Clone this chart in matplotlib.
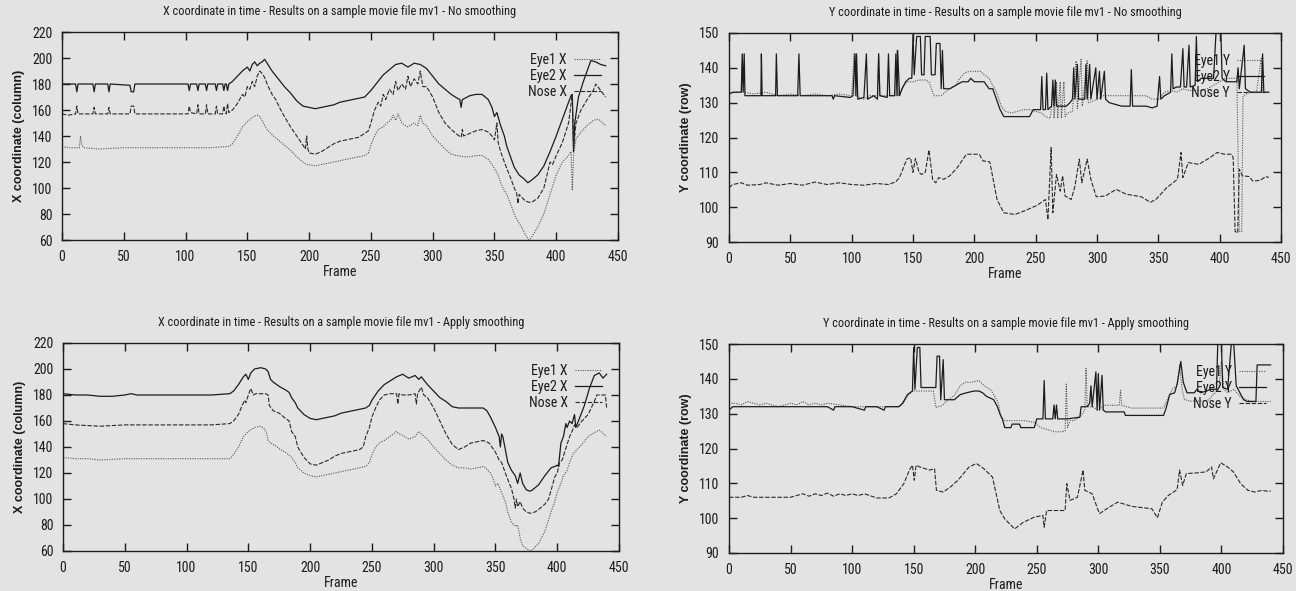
import matplotlib
matplotlib.use('Agg')
import matplotlib.pyplot as plt
from matplotlib.lines import Line2D

# ---------------- data (frame, value) ----------------
x_ticks = [0, 50, 100, 150, 200, 250, 300, 350, 400, 450]
x_yticks = [60, 80, 100, 120, 140, 160, 180, 200, 220]
y_yticks = [90, 100, 110, 120, 130, 140, 150]

titles = ["X coordinate in time - Results on a sample movie file mv1 - No smoothing",
          "Y coordinate in time - Results on a sample movie file mv1 - No smoothing",
          "X coordinate in time - Results on a sample movie file mv1 - Apply smoothing",
          "Y coordinate in time - Results on a sample movie file mv1 - Apply smoothing"]
x_labels = ["Eye1 X", "Eye2 X", "Nose X"]
y_labels = ["Eye1 Y", "Eye2 Y", "Nose Y"]

# X coordinate, no smoothing
x_raw_eye1 = [(0,132),(5,131),(14,131),(15,140),(16,133),(18,131),(30,130),(50,131),(80,131),(100,131),
    (120,131),(135,132),(138,134),(142,140),(146,147),(150,151),(155,155),(158,156),(160,155),(163,150),
    (166,145),(170,141),(175,137),(180,133),(185,129),(190,124),(195,120),(198,118),(200,118),(205,117),
    (210,118),(215,119),(220,120),(225,121),(230,122),(240,124),(245,125),(248,127),(250,133),(253,140),
    (256,145),(260,147),(263,150),(266,152),(268,156),(270,152),(272,157),(275,150),(278,148),(280,147),
    (285,150),(288,148),(290,156),(292,150),(295,148),(300,140),(305,135),(310,130),(315,126),(320,125),
    (325,124),(330,124),(335,125),(340,125),(345,122),(348,118),(350,115),(353,110),(355,104),(358,98),
    (360,95),(363,88),(366,80),(368,76),(370,73),(373,68),(375,64),(378,60),(380,62),(385,70),(390,80),
    (395,95),(400,110),(405,120),(410,125),(412,128),(413,98),(414,125),(416,138),(420,143),(425,148),
    (430,152),(434,153),(440,148)]
x_raw_eye2 = [(0,180),(11,180),(12,174),(13,180),(25,180),(26,174),(27,180),(37,180),(38,174),(39,180),
    (55,179),(56,174),(58,174),(59,180),(100,180),(102,180),(103,175),(104,180),(109,180),(110,175),
    (111,180),(116,180),(117,175),(118,180),(124,180),(125,175),(126,180),(130,180),(131,175),(132,180),
    (133,180),(134,175),(135,180),(138,182),(142,186),(146,190),(150,193),(152,190),(154,195),(156,197),
    (158,194),(160,196),(162,197),(164,199),(166,196),(170,190),(175,184),(180,178),(185,173),(190,167),
    (195,163),(200,162),(205,161),(210,162),(215,163),(220,164),(225,166),(230,167),(235,168),(240,169),
    (245,170),(250,175),(255,181),(260,187),(265,191),(270,195),(275,196),(280,193),(285,196),(290,195),
    (295,192),(300,186),(305,180),(310,176),(315,172),(320,169),(322,168),(323,162),(324,168),(326,169),
    (330,171),(335,172),(340,172),(345,168),(348,162),(350,155),(352,158),(355,148),(358,140),(360,132),
    (363,124),(366,116),(370,110),(374,107),(377,104),(380,106),(385,110),(390,117),(395,128),(400,140),
    (405,153),(410,166),(412,171),(413,172),(414,128),(415,150),(418,170),(422,182),(425,190),(428,198),
    (432,197),(436,195),(440,194)]
x_raw_nose = [(0,157),(5,156),(11,157),(12,163),(13,157),(25,157),(26,162),(27,157),(37,157),(38,162),
    (39,157),(55,157),(56,163),(58,163),(59,157),(100,157),(102,157),(103,163),(104,158),(109,157),
    (110,164),(111,157),(116,157),(117,164),(118,157),(124,157),(125,163),(126,157),(130,157),(131,163),
    (132,158),(133,157),(134,165),(135,158),(138,160),(142,165),(146,172),(148,170),(150,178),(152,176),
    (154,182),(156,178),(158,186),(160,190),(162,188),(164,185),(166,180),(168,176),(170,172),(173,168),
    (176,162),(180,155),(185,147),(190,140),(195,133),(197,130),(198,140),(199,130),(200,127),(205,126),
    (210,128),(215,131),(220,134),(225,136),(230,137),(235,138),(240,139),(245,142),(248,144),(250,150),
    (253,160),(256,166),(258,163),(260,172),(262,168),(265,176),(268,172),(270,182),(272,175),(275,180),
    (278,176),(280,186),(282,178),(285,184),(288,180),(290,190),(292,178),(295,178),(300,170),(305,158),
    (310,150),(315,145),(320,141),(323,139),(324,145),(325,140),(330,142),(335,144),(340,145),(345,143),
    (348,140),(350,137),(352,150),(353,135),(355,128),(358,120),(360,115),(363,108),(366,100),(368,96),
    (369,88),(370,95),(375,90),(378,89),(380,89),(385,92),(390,100),(393,112),(395,120),(397,118),
    (400,125),(405,135),(410,150),(413,172),(414,130),(416,150),(420,160),(425,168),(430,175),(432,180),
    (436,175),(440,170)]

# X coordinate, smoothing
x_sm_eye1 = [(0,132),(10,131),(20,131),(30,130),(50,131),(80,131),(100,131),(120,131),(135,131),(138,134),
    (142,140),(146,148),(150,152),(155,155),(160,156),(163,154),(165,150),(166,145),(168,143),(172,141),
    (176,138),(180,136),(185,132),(188,128),(190,124),(195,120),(200,118),(205,117),(210,118),(215,119),
    (220,120),(225,121),(230,122),(235,123),(240,124),(245,125),(248,128),(250,134),(253,140),(256,143),
    (260,145),(263,147),(266,149),(270,152),(272,150),(275,149),(278,147),(280,146),(285,148),(288,152),
    (290,150),(295,146),(300,140),(305,135),(310,130),(315,126),(320,124),(325,124),(330,123),(335,124),
    (340,125),(343,123),(346,120),(348,116),(350,110),(352,112),(355,105),(358,98),(360,90),(363,82),
    (366,79),(368,80),(370,70),(372,64),(375,62),(378,60),(380,61),(385,66),(390,75),(395,90),(398,98),
    (400,105),(403,112),(405,118),(408,122),(410,128),(413,135),(416,138),(420,142),(425,148),(430,151),
    (434,153),(440,148)]
x_sm_eye2 = [(0,181),(10,180),(20,180),(30,179),(40,179),(50,180),(55,181),(60,180),(100,180),(120,180),
    (135,181),(138,183),(142,188),(146,194),(148,196),(150,192),(152,197),(155,200),(160,201),(164,200),
    (166,198),(168,192),(170,190),(173,188),(176,186),(180,184),(183,182),(185,178),(188,174),(190,170),
    (195,165),(200,162),(205,161),(210,162),(215,163),(220,164),(225,166),(230,167),(235,168),(240,169),
    (245,170),(248,172),(250,176),(255,183),(260,188),(265,191),(270,194),(275,196),(278,194),(280,193),
    (285,195),(288,192),(290,194),(295,188),(300,183),(305,178),(310,175),(315,171),(320,170),(325,170),
    (330,170),(335,170),(340,170),(343,168),(346,163),(350,155),(353,148),(354,140),(355,150),(356,148),
    (358,138),(360,128),(363,122),(366,118),(368,112),(370,120),(372,112),(375,107),(378,106),(380,107),
    (385,111),(390,118),(395,124),(398,125),(400,126),(401,125),(403,143),(405,148),(407,158),(408,155),
    (410,160),(412,158),(414,165),(415,155),(418,162),(422,172),(426,185),(430,195),(434,197),(437,193),
    (440,196)]
x_sm_nose = [(0,158),(10,157),(30,156),(50,157),(80,157),(100,157),(120,157),(135,158),(138,160),(142,165),
    (145,172),(147,176),(148,174),(150,180),(152,185),(154,180),(156,181),(160,181),(164,181),(166,180),
    (167,172),(170,168),(175,166),(180,162),(183,160),(185,152),(188,148),(190,140),(195,132),(200,127),
    (205,126),(210,128),(215,130),(220,133),(225,135),(230,136),(235,137),(240,138),(243,140),(245,148),
    (248,155),(250,163),(253,170),(256,176),(260,180),(265,181),(270,181),(271,173),(272,181),(275,180),
    (280,180),(285,181),(286,173),(287,181),(290,186),(292,180),(295,178),(300,170),(305,160),(310,150),
    (315,142),(320,138),(325,140),(330,143),(335,144),(340,145),(345,143),(350,136),(353,130),(355,128),
    (358,120),(360,115),(363,108),(365,100),(366,93),(367,100),(368,94),(370,98),(372,93),(375,90),
    (378,89),(382,90),(385,92),(390,96),(393,100),(396,110),(398,117),(400,120),(402,128),(404,130),
    (406,136),(408,142),(410,148),(412,152),(414,157),(416,155),(420,160),(425,165),(430,175),(432,180),
    (436,180),(439,180),(440,170)]

# Y coordinate, no smoothing
y_raw_eye1 = [(0,132.5),(5,133),(10,133),(11,144),(12,133),(20,132.5),(30,133),(40,132),(50,132.5),(60,132),
    (70,132.5),(80,132),(90,132.5),(100,132),(102,144),(103,132),(110,131),(115,132),(121,132),(122,144),
    (123,132),(130,132),(136,132),(137,145),(138,132),(140,133),(143,135),(145,136),(150,136),(155,136.5),
    (160,136.5),(163,136),(165,134),(167,132),(170,132),(173,132),(176,133),(180,134),(185,135),(188,137),
    (192,138.5),(196,139),(200,139),(205,139),(208,138),(212,137),(215,135),(218,133),(222,129),(225,127.5),
    (230,127),(240,128),(245,128),(250,127.5),(255,127),(258,126),(262,125.5),(264,134),(265,125.5),(267,136),
    (268,125.5),(270,136),(271,125.5),(273,136),(274,126),(276,127),(280,127.5),(283,142),(284,128),(287,142.5),
    (288,129),(292,142),(293,130),(297,130.5),(300,131),(305,132),(310,132),(320,132),(330,132),(340,132),
    (345,131),(350,131),(355,133),(360,133.5),(365,133),(370,134),(375,133.5),(380,133.5),(385,133.5),
    (390,134),(395,135),(400,136),(405,137),(410,137),(414,137),(416,93),(418,93),(419,132),(425,133),
    (430,133),(434,143),(435,133),(440,133)]
y_raw_eye2 = [(0,132.5),(3,133),(10,133),(10.8,144),(11.5,133),(12.4,144),(13,132),(26,132),(26.4,144),
    (27,132),(38,132),(38.6,144),(39.5,132),(56,132),(57,144),(58,132),(70,132),(84,132),(85,131),(86,132),
    (99,131.5),(101,132),(102.7,144),(103.5,132),(104,144),(105,131),(110,131.5),(112,144),(113,131),(118,132),
    (121,131),(122,144),(123,132),(129,131.5),(130,144),(131,132),(135,132),(136,144),(137,132),(137.5,145),
    (139,132),(141,134),(144,136),(147,137),(149,137),(150,149.5),(151,138),(153,149),(156,149),(157,138),
    (159,138),(160,149),(164,149),(165,138),(168,138),(169,147),(172,147),(173,134),(174,145),(175,134),
    (180,134),(185,135),(190,136),(195,136),(197,137),(200,136),(205,136),(208,136),(212,134),(215,134),
    (218,131),(221,128),(224,126),(245,126),(248,128),(254,128),(255,137.5),(256,128),(258,128),(259,138.5),
    (260,128),(263,129),(264,136.5),(265,129),(266,136.5),(267,129),(275,129),(278,130),(280,131),(281,140),
    (282,131),(284,141),(285,131),(290,131),(291,141),(292,131),(294,141),(295,131),(299,140),(300,131),
    (302,139),(303,131),(306,139),(307,131),(310,130),(315,129.5),(320,129),(327,129),(328,139.5),(329,129),
    (335,129),(340,129),(345,128.5),(349,129),(351,137.5),(352,131),(355,132),(360,133),(361,144),(362,134),
    (365,134.5),(368,134.5),(370,145.5),(371,134.5),(373,134.5),(375,146.5),(376,134.5),(380,135),(381,149),
    (382,136),(385,137),(390,137),(395,137),(397,150),(401,150),(402,137),(405,136),(410,136),(414,136),
    (415,140),(416,134),(420,146.5),(421,134),(425,133),(430,133),(434,133),(435,144),(436,133),(440,133)]
y_raw_nose = [(0,105.6),(3,106.5),(10,107),(15,106.3),(25,106.5),(30,107),(40,106.3),(50,106.8),(60,106.3),
    (70,107.2),(80,106.5),(90,107),(100,106.5),(110,106.3),(120,106.8),(130,106.5),(136,107.3),(139,108.5),
    (145,113.8),(148,114.2),(150,110),(152,114),(155,109.9),(157,109.4),(160,110),(163,116.4),(166,108),
    (168.5,107),(171,108.5),(175,108),(180,109),(186,111.3),(193.5,115.2),(200,115.2),(204,115.2),(207,113.3),
    (212.6,113),(218.5,102.2),(224,98.4),(233,97.9),(242,99.1),(251,100.5),(258,102.2),(260,96.4),(262.6,117.1),
    (264,98.4),(267,109.4),(270,104.6),(272,109),(274,103.2),(279,102.2),(282,106),(285.6,113.8),(287.6,107),
    (292,113.8),(295,108),(299.4,103),(306.8,103.2),(315.6,105.1),(324,103.7),(336,103),(343.5,101.4),
    (348,102.2),(356.8,105.6),(365.6,108),(368.5,115.7),(370,108.5),(374.4,112.8),(383,112.3),(392,114.2),
    (398,115.7),(404,115.2),(409.7,115.2),(411,114.2),(412.6,93),(414.7,92.6),(416,110.9),(418.5,109),
    (424,108.8),(427,107.5),(433,107.7),(437.6,108.8),(440,108.5)]

# Y coordinate, smoothing
y_sm_eye1 = [(0,133),(5,133),(10,132.5),(15,133.5),(20,133),(25,132.5),(30,133),(35,132.5),(40,132),(50,133),
    (55,132.5),(60,133.5),(65,132.5),(70,133),(75,132.5),(80,133),(90,132.5),(100,132),(110,132),(120,132),
    (130,132),(138,132),(141,132.7),(145,135),(149,136.5),(155,136.5),(160,136.5),(166,136.5),(168,131.8),
    (173,132.3),(178,134),(183,135.2),(188,138.1),(192,139),(196.5,139),(203,139.5),(207,138.1),(213,136.7),
    (218.5,133.3),(221,129),(224,128),(230,128),(240,128),(248,127.5),(250,127),(253,126),(258,125.5),
    (265,124.8),(270,124.8),(273,125),(274,138.5),(275,126),(277,128),(280,128),(285,129),(289,131),(290,143),
    (291,132),(295,132),(300,131),(305,132.4),(315,132.4),(317,132.4),(318,136.7),(319,132.4),(327,131.6),
    (340,131.6),(350,131.6),(353,131.6),(356,134),(360,137),(364,138),(366,144),(368,137),(370,134),
    (375,133.6),(380,133.6),(385,133.6),(390,134),(392,135),(395,136),(398,137),(400,145),(402,137),
    (405,136),(410,137),(415,135),(420,134),(425,133.5),(430,133.5),(440,133.5)]
y_sm_eye2 = [(0,131),(3,132),(10,132),(20,132),(40,132),(60,132),(80,132),(85,131),(86,132),(100,132),
    (110,131),(111,132),(120,132),(126,131),(127,132),(138,132),(141,133),(145,135.5),(149,136.5),(150,149),
    (151,137),(153,149),(155,149),(156,137.5),(160,137.5),(166,137.5),(168,137.5),(169,146.5),(171,146.5),
    (172,134),(174,145.5),(175,134),(180,134),(183,134),(188,135.5),(193,136),(199,136.5),(203,136.5),
    (206,136),(209,135),(215,134),(218,132),(220,130),(222,128.5),(224,126),(229,126),(230,127),(236,127),
    (237,126),(248,126),(250,128.5),(255,128.5),(256,139.5),(257,128.5),(263,128.5),(264,132.5),(265,128.5),
    (266,132.5),(267,128.5),(275,128.5),(285,129),(286,132),(291,132),(293,133),(294,138),(295,132),
    (298,142),(299,131),(300,141.5),(301,131),(303,141),(304,131),(306,130.5),(315,130.5),(321,130.5),
    (322,129.5),(330,129.5),(340,129.5),(350,129.5),(353,129.5),(355,131.5),(358,135.5),(362,136),
    (364,138.5),(367,145),(369,139),(372,136),(378,136),(380,137),(383,136),(388,136.5),(391,137),(394,137),
    (396,137),(397,150),(400,150),(401,137.5),(405,137),(408,150),(410,150),(412,138),(415,136),(418,134),
    (421,133.5),(426,133.5),(428,133.5),(429,144),(440,144)]
y_sm_nose = [(0,106),(10,106),(15,106.5),(20,106),(40,106),(50,106),(60,107),(65,106.3),(70,107),(75,106.5),
    (80,107.2),(85,106.3),(90,107),(95,106.5),(100,107),(105,106.5),(110,107),(120,105.8),(130,105.8),
    (136,107),(142,109.9),(146.5,113.8),(149,115.2),(150.5,110.9),(152,115.2),(155,114.7),(163,113.8),
    (167,114.2),(168.5,108),(174,107.5),(180,109),(186,110.9),(195,114.7),(201,115.7),(207,114.2),(214,111.8),
    (220,102.2),(224,99.8),(232,96.9),(239,98.8),(248,100.3),(255,100.8),(256,97.4),(258,102.2),(273,102.2),
    (274.4,109.9),(277,105.1),(283,106),(287.6,113.8),(289,108),(295,107),(299.4,102.7),(301,101.3),
    (306.8,102.7),(315.6,104.6),(327,103.4),(343.5,102.7),(348,100.1),(352,104.6),(356.8,106.5),(364,108.2),
    (366,113.8),(368.5,109.4),(371.5,112.8),(380,113),(387.6,113.3),(392,114.7),(393.5,111.3),(399.4,115.9),
    (405,114.7),(409.7,113.3),(415.6,109.9),(421.5,108),(427,107.5),(433,108),(437.6,107.7),(440,107.8)]

# ---------------- drawing ----------------
BG = '#e3e3e3'
INK = '#1c1c1c'
NARROW = ['Roboto Condensed', 'Archivo Narrow', 'DejaVu Sans']
REG = ['Liberation Sans', 'DejaVu Sans']

fig = plt.figure(figsize=(12.96, 5.91), dpi=100, facecolor=BG)

def box(l, r, t, b):
    W, H = 1296, 591
    return [l / W, (H - b) / H, (r - l) / W, (b - t) / H]

styles = [dict(color='#555555', lw=0.8, ls=(0, (1, 1.2))),
          dict(color=INK, lw=0.9, ls='-'),
          dict(color='#2a2a2a', lw=0.8, ls=(0, (4, 1.5)))]

panels = [
    (box(62, 618, 32, 240), [x_raw_eye1, x_raw_eye2, x_raw_nose], titles[0], x_labels, (60, 220), x_yticks, "X coordinate (column)"),
    (box(729, 1281, 33, 242), [y_raw_eye1, y_raw_eye2, y_raw_nose], titles[1], y_labels, (90, 150), y_yticks, "Y coordinate (row)"),
    (box(63, 619, 343, 551), [x_sm_eye1, x_sm_eye2, x_sm_nose], titles[2], x_labels, (60, 220), x_yticks, "X coordinate (column)"),
    (box(729, 1283, 344, 553), [y_sm_eye1, y_sm_eye2, y_sm_nose], titles[3], y_labels, (90, 150), y_yticks, "Y coordinate (row)"),
]

for rect, series, title, labels, ylim, yt, ylab in panels:
    ax = fig.add_axes(rect)
    ax.set_facecolor(BG)
    handles = []
    for s, st, lab in zip(series, styles, labels):
        f = [p[0] for p in s]
        v = [p[1] for p in s]
        ax.plot(f, v, **st)
        handles.append(Line2D([], [], **st))
    ax.set_xlim(0, 450)
    ax.set_ylim(*ylim)
    ax.set_xticks(x_ticks)
    ax.set_yticks(yt)
    ax.tick_params(direction='in', length=6, width=1, top=True, right=True,
                   labelsize=10, pad=7, colors=INK)
    for lbl in ax.get_xticklabels() + ax.get_yticklabels():
        lbl.set_family(NARROW)
    for sp in ax.spines.values():
        sp.set_linewidth(1.0)
        sp.set_color(INK)
    ax.set_title(title, fontsize=8.8, family=NARROW, pad=12, color=INK)
    ax.set_xlabel("Frame", fontsize=10, family=NARROW, labelpad=1, color=INK)
    ax.set_ylabel(ylab, fontsize=9, family=REG, weight='bold', labelpad=5, color=INK)
    leg = ax.legend(handles, labels, loc='upper right', bbox_to_anchor=(0.985, 0.94),
                    frameon=False, markerfirst=False, handlelength=2.0, handletextpad=0.5,
                    labelspacing=0.15, borderaxespad=0.2,
                    prop={'family': NARROW, 'size': 10})
    for t in leg.get_texts():
        t.set_color(INK)

fig.savefig('out.png', dpi=100, facecolor=BG)
